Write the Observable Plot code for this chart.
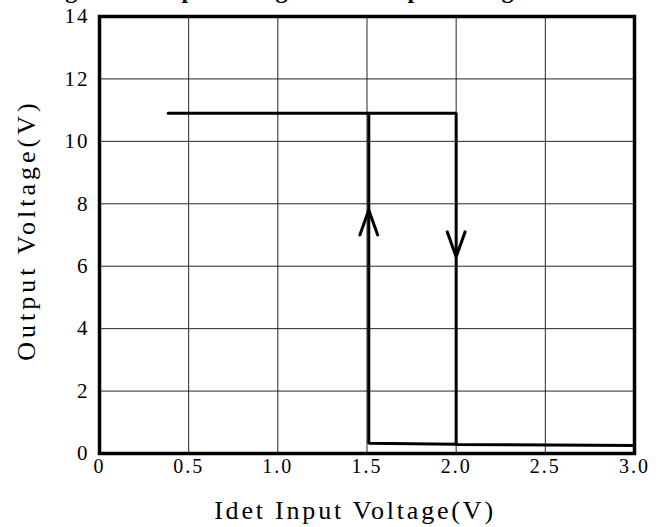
<!DOCTYPE html>
<html><head><meta charset="utf-8">
<script src="https://cdn.jsdelivr.net/npm/d3@7"></script>
<script src="https://cdn.jsdelivr.net/npm/@observablehq/plot@0.6"></script>
<style>
body{margin:0;background:#fff;width:658px;height:527px;overflow:hidden;position:relative}
#title{position:absolute;left:-45px;top:-23px;width:658px;text-align:center;font:bold 24px "Liberation Serif",serif;white-space:nowrap;color:#000}
#chart svg text{letter-spacing:2px}
</style></head><body>
<div id="title">Figure 4. Output Voltage vs. Idet Input Voltage</div>
<div id="chart"></div>
<script>
const xTicks = [0, 0.5, 1.0, 1.5, 2.0, 2.5, 3.0];
const xTickLabels = ["0", "0.5", "1.0", "1.5", "2.0", "2.5", "3.0"];
const yTicks = [0, 2, 4, 6, 8, 10, 12, 14];
const xLabel = "Idet Input Voltage(V)";
const yLabel = "Output Voltage(V)";

// falling branch (high output, drops at 2.0 V)
const fallX = [0.385, 2.0, 2.0, 3.0];
const fallY = [10.9, 10.9, 0.29, 0.26];
// rising branch (rises at ~1.51 V)
const riseX = [1.51, 1.51, 2.0];
const riseY = [10.9, 0.33, 0.30];
// low segment near origin
const baseX = [0, 0.43];
const baseY = [0, 0];

// arrowheads: position, tip value, direction (+1 up, -1 down)
const arrowX = [1.51, 2.0];
const arrowTip = [7.8, 6.3];
const arrowDir = [1, -1];
const arrowHalfWidth = 0.05;
const arrowLength = 0.8;

const toRows = (xs, ys) => xs.map((x, i) => ({x, y: ys[i]}));
const fall = toRows(fallX, fallY);
const rise = toRows(riseX, riseY);
const base = toRows(baseX, baseY);
const wings = arrowX.flatMap((x, i) => {
  const back = arrowTip[i] - arrowDir[i] * arrowLength;
  return [
    {x: x - arrowHalfWidth, y: back, k: i},
    {x: x, y: arrowTip[i], k: i},
    {x: x + arrowHalfWidth, y: back, k: i}
  ];
});

const chart = Plot.plot({
  width: 658,
  height: 527,
  marginLeft: 99,
  marginRight: 24,
  marginTop: 16,
  marginBottom: 74,
  style: {fontFamily: "'Liberation Serif', serif", fontSize: "20px", color: "#000", background: "#fff"},
  x: {domain: [0, 3]},
  y: {domain: [0, 14]},
  marks: [
    Plot.gridX(xTicks, {stroke: "#000", strokeOpacity: 0.85, strokeWidth: 1}),
    Plot.gridY(yTicks, {stroke: "#000", strokeOpacity: 0.85, strokeWidth: 1}),
    Plot.axisX(xTicks, {tickSize: 0, tickPadding: 5, tickFormat: (d, i) => xTickLabels[i], label: null, fontSize: 20}),
    Plot.axisY(yTicks, {tickSize: 0, tickPadding: 10, label: null, fontSize: 21}),
    Plot.text([xLabel], {frameAnchor: "bottom", text: d => d, dy: 57, dx: -12, fontSize: 26, lineAnchor: "middle", textAnchor: "middle"}),
    Plot.text([yLabel], {frameAnchor: "left", text: d => d, dx: -73, dy: -5, rotate: -90, fontSize: 26, lineAnchor: "middle", textAnchor: "middle"}),
    Plot.line(base, {x: "x", y: "y", stroke: "#000", strokeWidth: 3}),
    Plot.line(rise, {x: "x", y: "y", stroke: "#000", strokeWidth: 3, strokeLinejoin: "miter"}),
    Plot.line(fall, {x: "x", y: "y", stroke: "#000", strokeWidth: 3, strokeLinejoin: "miter"}),
    Plot.line(wings, {x: "x", y: "y", z: "k", stroke: "#000", strokeWidth: 3, strokeLinejoin: "miter"}),
    Plot.frame({stroke: "#000", strokeWidth: 3.5})
  ]
});
d3.select(chart).selectAll("text").each(function() {
  const t = this.textContent;
  if (t === xLabel) this.style.letterSpacing = "2.8px";
  if (t === yLabel) this.style.letterSpacing = "4px";
});
document.getElementById("chart").append(chart);
</script>
</body></html>
